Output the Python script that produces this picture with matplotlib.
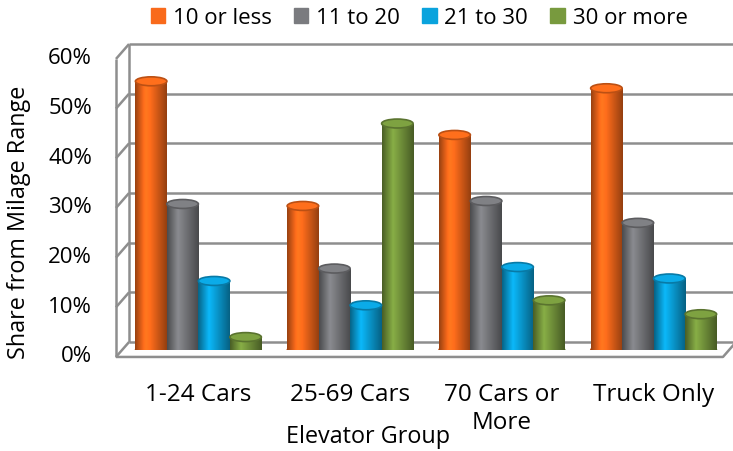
import numpy as np
import matplotlib
matplotlib.use('Agg')
import matplotlib.pyplot as plt
from matplotlib.patches import Ellipse, Patch
from matplotlib.colors import to_rgb
from matplotlib.transforms import ScaledTranslation

# share of deliveries per milage range, by elevator group
groups = ['1-24 Cars', '25-69 Cars', '70 Cars or\nMore', 'Truck Only']
ranges = ['10 or less', '11 to 20', '21 to 30', '30 or more']
ten_or_less = [54.1, 29.0, 43.3, 52.7]
eleven_to_20 = [29.4, 16.4, 30.0, 25.6]
twentyone_to_30 = [13.9, 9.0, 16.7, 14.4]
thirty_or_more = [2.6, 45.6, 10.0, 7.2]
series = [ten_or_less, eleven_to_20, twentyone_to_30, thirty_or_more]
colors = ['#F96A1B', '#7A7B7F', '#0AA3DD', '#789A3E']
yticks = [0, 10, 20, 30, 40, 50, 60]

plt.rcParams['font.family'] = ['Open Sans', 'DejaVu Sans']

fig = plt.figure(figsize=(7.33, 4.51), dpi=100)
ax = fig.add_axes([122.5 / 733, 101 / 451, 607 / 733, 298 / 451])
ax.set_xlim(-0.5, 3.5)
ax.set_ylim(0, 60)
ax.axis('off')

# depth of the 3d box: back wall and front edge offsets in data units
bdx, bdy = 0.043, 1.6
fdx, fdy = -0.043, -1.4
grid_kw = dict(color='#8E8E8E', lw=1.8, clip_on=False, zorder=1, solid_capstyle='butt')
shift_left = ax.transData + ScaledTranslation(-24 / 100, 0, fig.dpi_scale_trans)

for v in yticks:
    ax.plot([-0.5 + bdx, 3.6], [v + bdy, v + bdy], **grid_kw)
    ax.plot([-0.5 + fdx, -0.5 + bdx], [v + fdy, v + bdy], **grid_kw)
    ax.text(-0.5 + fdx, v + fdy, f'{v}%', ha='right', va='center', fontsize=16,
            transform=shift_left)
ax.plot([-0.5 + bdx] * 2, [bdy, 60 + bdy], **grid_kw)
ax.plot([-0.5 + fdx] * 2, [fdy, 60 + fdy], **grid_kw)
ax.plot([-0.5 + fdx, 3.5 + fdx, 3.5 + bdx], [fdy, fdy, bdy], **grid_kw)

# cylinders: flat bars shaded with a horizontal gradient, plus elliptic caps
w = 0.2075
shade = np.concatenate([np.linspace(0.62, 1.12, 14), np.linspace(1.12, 0.6, 26)])
for j, (vals, col) in enumerate(zip(series, colors)):
    base = np.array(to_rgb(col))
    grad = np.clip(base[None, None, :] * shade[None, :, None], 0, 1)
    xs = np.arange(len(groups)) + (j - 1.5) * w
    bars = ax.bar(xs, vals, width=w, color=col, zorder=3)
    for b, x, v in zip(bars, xs, vals):
        ax.add_patch(Ellipse((x, 0), w, 1.8, color=base * 0.8, zorder=2))
        im = ax.imshow(grad, extent=(x - w / 2, x + w / 2, 0, v), aspect='auto', zorder=4)
        im.set_clip_path(b)
        ax.add_patch(Ellipse((x, v), w, 1.8, facecolor=np.clip(base * 1.05, 0, 1),
                             edgecolor=base * 0.75, lw=1.2, zorder=5))
ax.set_xlim(-0.5, 3.5)
ax.set_ylim(0, 60)

for i, g in enumerate(groups):
    ax.text(i, -6.6, g, ha='center', va='top', fontsize=17.5, linespacing=1.25)

fig.text(368 / 733, 1 - 437 / 451, 'Elevator Group', ha='center', va='center', fontsize=16.8)
fig.text(19 / 733, 1 - 222 / 451, 'Share from Milage Range', ha='center', va='center',
         rotation=90, fontsize=16.8)

handles = [Patch(color=c, label=r) for c, r in zip(colors, ranges)]
fig.legend(handles=handles, loc='center', bbox_to_anchor=(419 / 733, 1 - 18 / 451), ncol=4,
           frameon=False, fontsize=16, handlelength=0.65, handleheight=0.65,
           handletextpad=0.35, columnspacing=1.0, borderpad=0)

fig.savefig('out.png', dpi=100)
